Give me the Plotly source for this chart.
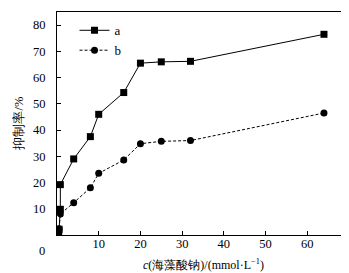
import plotly.graph_objects as go

# Data
a_x = [0.4, 0.5, 0.8, 0.8, 4, 8, 10, 16, 20, 25, 32, 64]
a_y = [0.8, 2.2, 9.8, 19.2, 29, 37.5, 46, 54.3, 65.5, 66, 66.2, 76.5]
b_x = [0.4, 0.5, 0.8, 4, 8, 10, 16, 20, 25, 32, 64]
b_y = [0.8, 2.4, 8.0, 12.3, 18, 23.5, 28.6, 34.8, 35.7, 36, 46.5]

x_ticks = [10, 20, 30, 40, 50, 60, 70]
y_ticks = [10, 20, 30, 40, 50, 60, 70, 80]

FONT = "Liberation Serif"

fig = go.Figure()
fig.add_trace(go.Scatter(
    x=a_x, y=a_y, name="a", mode="lines+markers",
    line=dict(color="black", width=1),
    marker=dict(symbol="square", size=7, color="black"),
))
fig.add_trace(go.Scatter(
    x=b_x, y=b_y, name="b", mode="lines+markers",
    line=dict(color="black", width=1, dash="3px,2px"),
    marker=dict(symbol="circle", size=7, color="black"),
))

fig.update_layout(
    template="none",
    width=349, height=273,
    margin=dict(l=49, r=8, t=4, b=46),
    paper_bgcolor="white", plot_bgcolor="white",
    font=dict(family=FONT, size=12, color="black"),
    showlegend=True,
    legend=dict(x=0.06, y=0.985, xanchor="left", yanchor="top",
                bgcolor="rgba(0,0,0,0)", font=dict(size=13),
                tracegroupgap=0, itemwidth=30),
    xaxis=dict(
        automargin=False,
        range=[0, 70], tickvals=x_ticks, ticks="inside", ticklen=4,
        tickcolor="black", showline=True, linecolor="black", linewidth=1,
        mirror=True, showgrid=False, zeroline=False,
        tickfont=dict(size=12.5), ticklabelstandoff=-3,
        ticklabeloverflow="allow",
    ),
    yaxis=dict(
        automargin=False,
        range=[0, 85], tickvals=y_ticks, ticks="inside", ticklen=4,
        tickcolor="black", showline=True, linecolor="black", linewidth=1,
        mirror=True, showgrid=False, zeroline=False,
        tickfont=dict(size=12.5), ticklabelstandoff=8,
    ),
    annotations=[
        dict(text="0", xref="paper", yref="paper", x=-0.05, y=0,
             xanchor="center", yanchor="middle", yshift=-16,
             showarrow=False, font=dict(size=12.5)),
        dict(text="<i>c</i>(海藻酸钠)/(mmol·L<sup>−1</sup>)",
             xref="paper", yref="paper", x=0.5, y=0,
             xanchor="center", yanchor="middle", yshift=-29,
             showarrow=False, font=dict(size=12)),
        dict(text="抑制率/%", textangle=-90,
             xref="paper", yref="paper", x=0, y=0.5,
             xanchor="center", yanchor="middle", xshift=-39,
             showarrow=False, font=dict(size=12.5)),
    ],
)

fig.write_html("out.html")
